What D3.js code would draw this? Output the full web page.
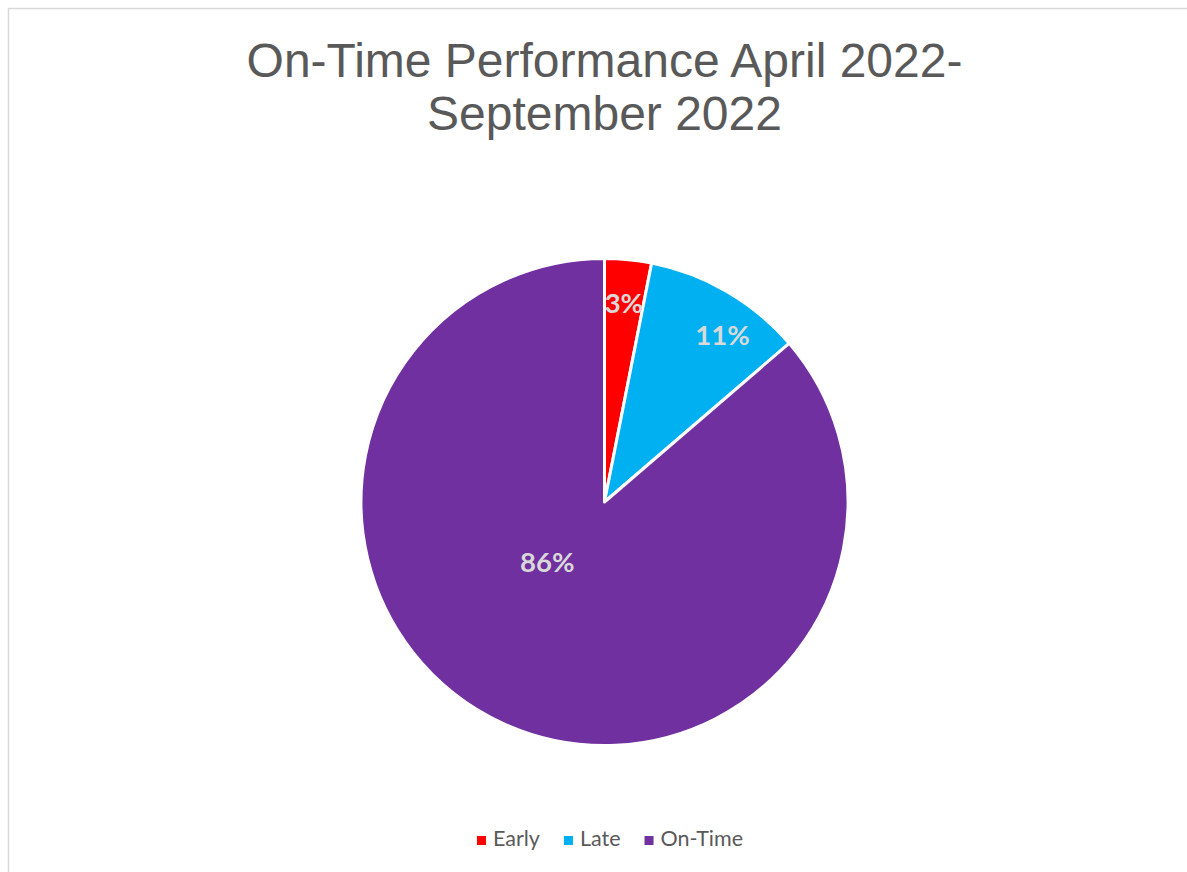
<!DOCTYPE html>
<html><head><meta charset="utf-8">
<script src="https://cdn.jsdelivr.net/npm/d3@7"></script>
<style>html,body{margin:0;padding:0;background:#fff;}svg{display:block;}</style>
</head><body>
<svg id="chart" width="1187" height="872"></svg>
<script>
const categories = ["Early", "Late", "On-Time"];
const values = [3.1, 10.6, 86.3];
const colors = ["#FF0000", "#00B0F0", "#7030A0"];
const titleLines = ["On-Time Performance April 2022-", "September 2022"];
// label placement: fraction of radius, angle shift in degrees
const labelRadius = [0.82, 0.84, 0.34];
const labelShift = [0, 5, 19];

const svg = d3.select("#chart");
svg.append("rect").attr("x", 8.5).attr("y", 8.5).attr("width", 1200).attr("height", 900)
  .attr("fill", "#fff").attr("stroke", "#d9d9d9").attr("stroke-width", 1.5);

svg.append("g").selectAll("text").data(titleLines).join("text")
  .attr("x", 604.5).attr("y", (d, i) => 77 + i * 53)
  .attr("text-anchor", "middle")
  .attr("font-family", "Liberation Sans, Arial, sans-serif")
  .attr("font-size", 48).attr("fill", "#595959").text(d => d);

const cx = 604.5, cy = 502, r = 243.5;
const pie = d3.pie().sort(null).value(d => d)(values);
const arc = d3.arc().innerRadius(0).outerRadius(r);
const g = svg.append("g").attr("transform", `translate(${cx},${cy})`);
g.selectAll("path").data(pie).join("path")
  .attr("d", arc).attr("fill", (d, i) => colors[i])
  .attr("stroke", "#fff").attr("stroke-width", 3).attr("stroke-linejoin", "round");

const total = d3.sum(values);
g.selectAll("text").data(pie).join("text")
  .attr("transform", (d, i) => {
    const a = (d.startAngle + d.endAngle) / 2 + labelShift[i] * Math.PI / 180;
    const rr = r * labelRadius[i];
    return `translate(${rr * Math.sin(a)},${-rr * Math.cos(a)})`;
  })
  .attr("text-anchor", "middle").attr("dy", "0.35em")
  .attr("font-family", "Lato, Carlito, Calibri, sans-serif")
  .attr("font-weight", "bold").attr("font-size", 27.5).attr("fill", "#D9D9D9")
  .text(d => Math.round(d.value / total * 100) + "%");

// legend
const legendFont = "Lato, Carlito, Calibri, sans-serif";
const lg = svg.append("g");
const items = lg.selectAll("g").data(categories).join("g");
items.append("rect").attr("width", 9).attr("height", 9).attr("y", -10)
  .attr("fill", (d, i) => colors[i]);
items.append("text").attr("x", 16).attr("y", 0)
  .attr("font-family", legendFont).attr("font-size", 21.5).attr("fill", "#595959").text(d => d);
let xpos = 0; const widths = [];
items.each(function() { const w = this.getBBox().width; widths.push(w); });
items.attr("transform", (d, i) => { const t = `translate(${xpos},0)`; xpos += widths[i] + 24; return t; });
const totalW = xpos - 24;
lg.attr("transform", `translate(${610 - totalW / 2},846)`);
</script>
</body></html>
